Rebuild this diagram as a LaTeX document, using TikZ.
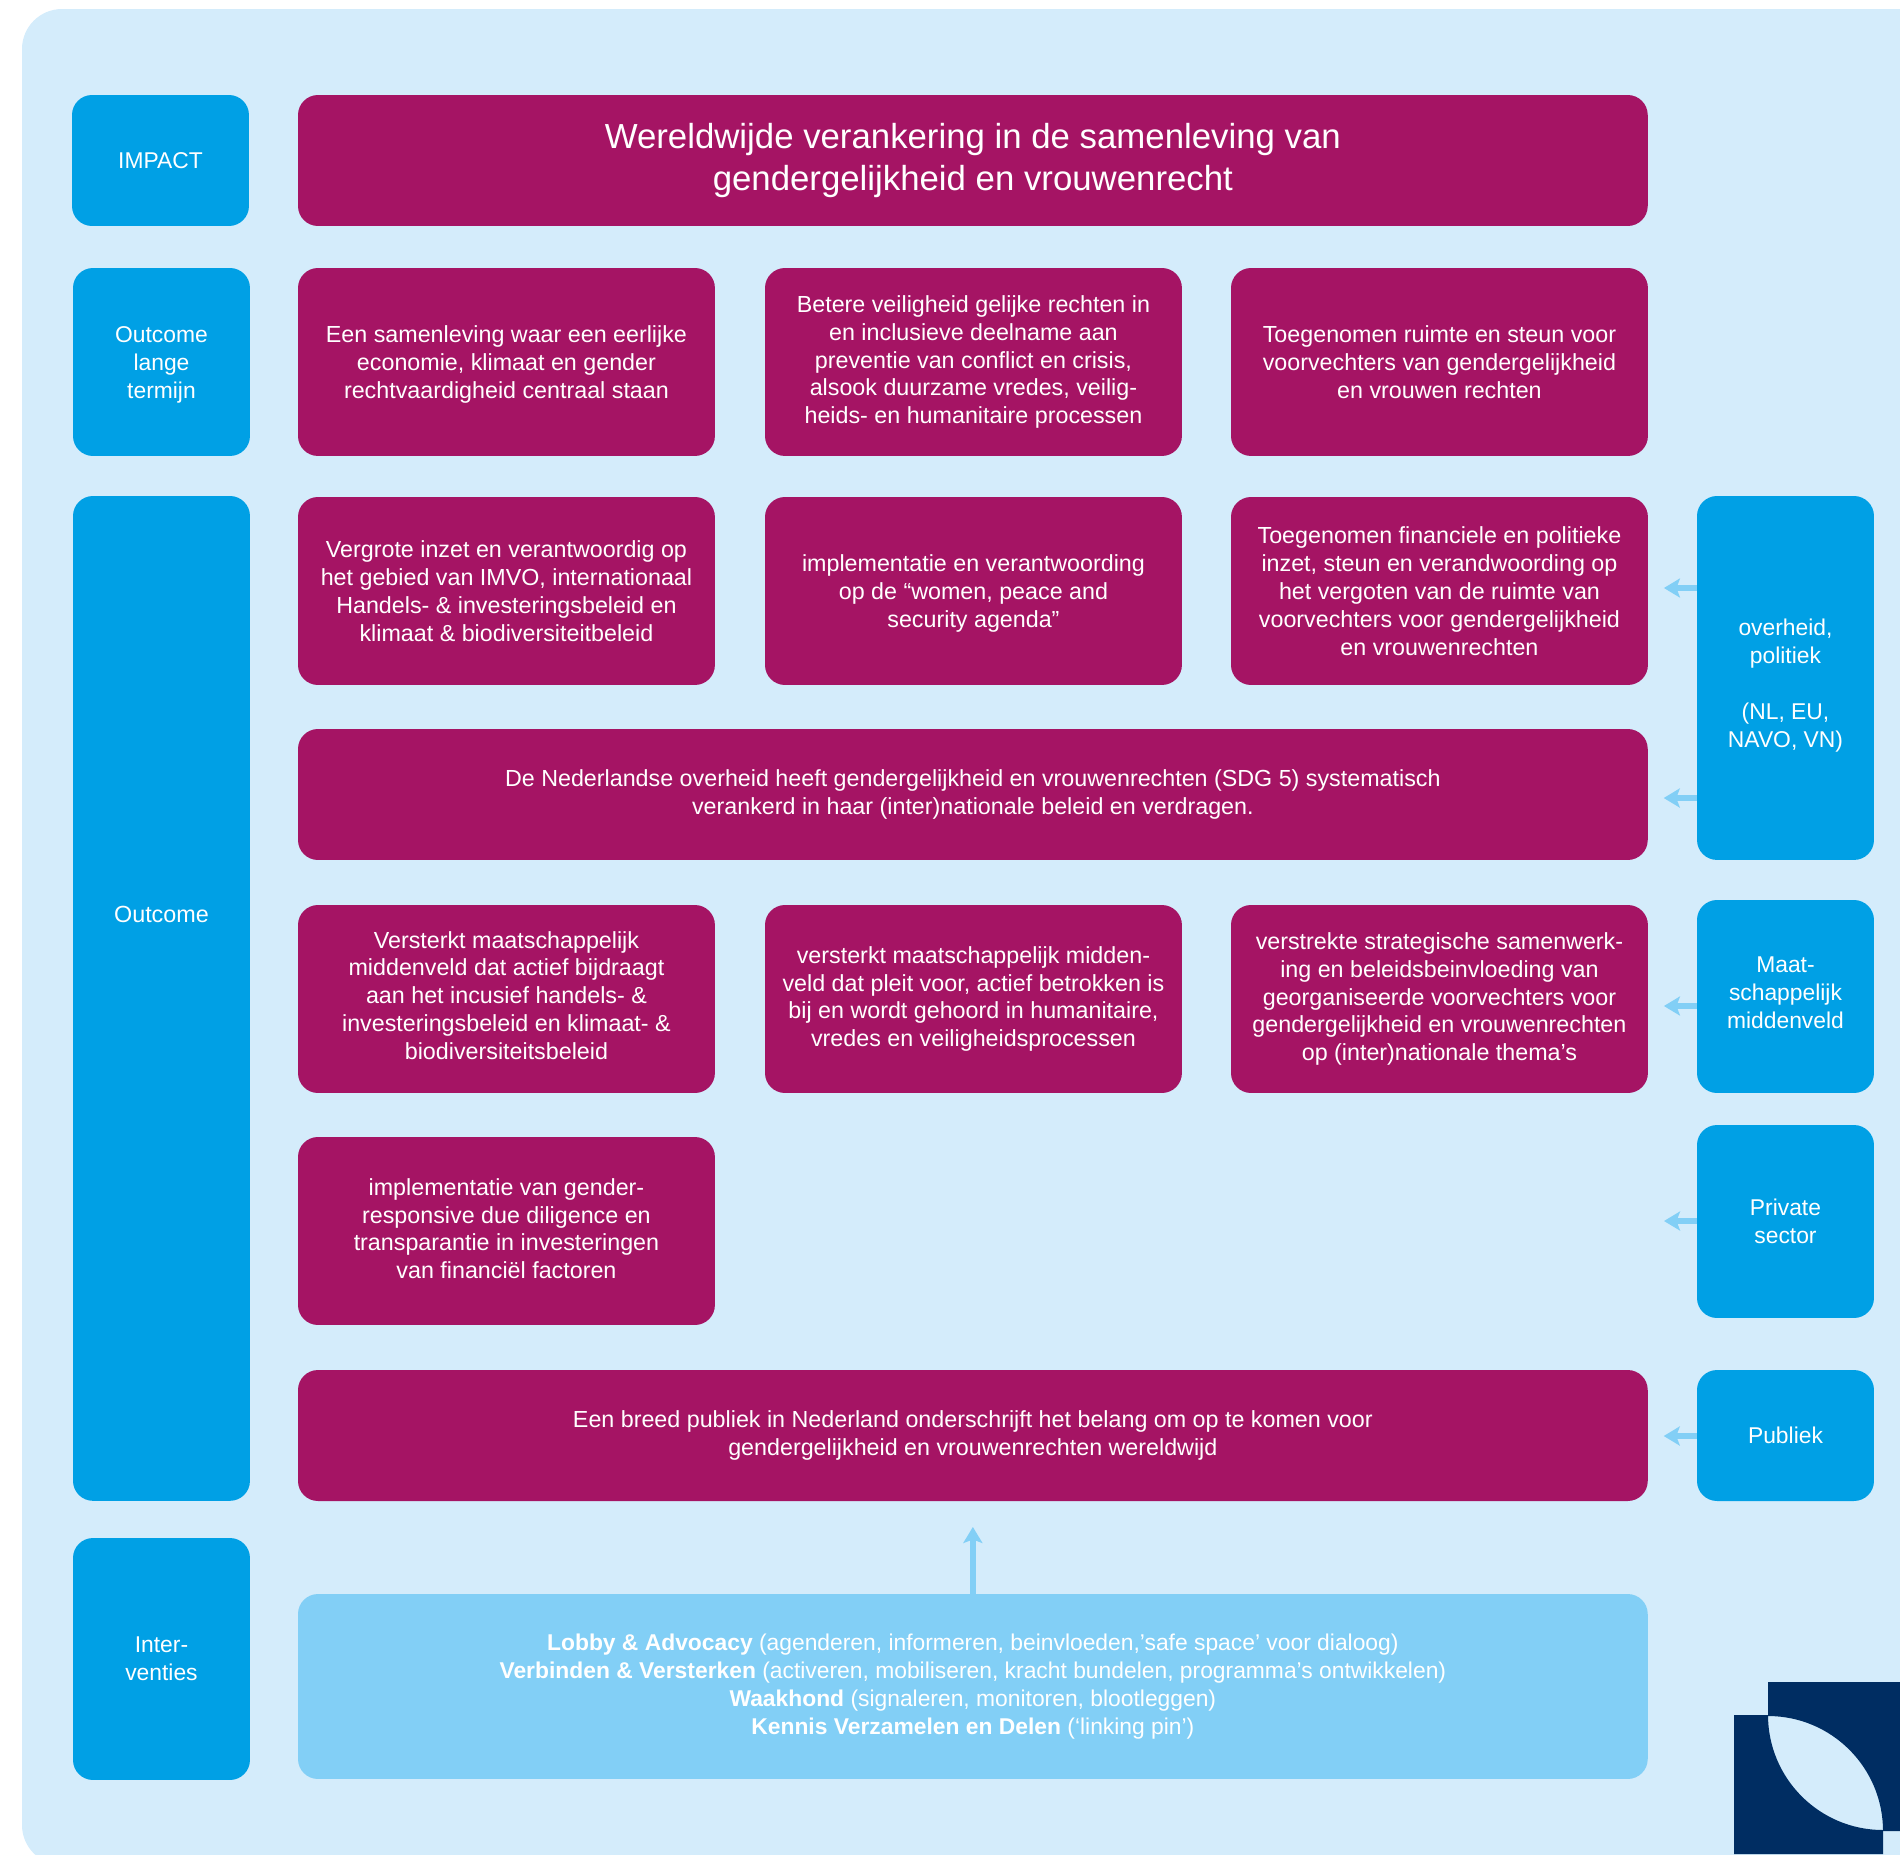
\documentclass[tikz,border=0pt]{standalone}
\usepackage{fontspec}
\setmainfont{Liberation Sans}
\usetikzlibrary{arrows.meta}

\definecolor{paleblue}{HTML}{D4ECFB}
\definecolor{midblue}{HTML}{00A0E5}
\definecolor{lightblue}{HTML}{82CFF6}
\definecolor{plum}{HTML}{A51464}
\definecolor{navy}{HTML}{002D62}

\newcommand{\drop}[1]{\rule{0pt}{#1}}

\begin{document}
\begin{tikzpicture}[x=0.02cm, y=-0.02cm,
  box/.style={anchor=north west, rounded corners=0.4cm, inner sep=0pt, outer sep=0pt, align=center, text=white, font=\fontsize{13.25}{15.9}\selectfont},
  labelbox/.style={box, fill=midblue, minimum width=3.54cm, font=\fontsize{13}{15.9}\selectfont},
  goalbox/.style={box, fill=plum, minimum width=8.34cm, minimum height=3.76cm},
  widebox/.style={box, fill=plum, minimum width=27cm, minimum height=2.62cm},
  flow/.style={-{Stealth[length=0.32cm,width=0.38cm,inset=0.07cm]}, lightblue, line width=0.11cm}]

  \useasboundingbox (0,0) rectangle (1900,1854);
  \clip (0,0) rectangle (1900,1854);

  \fill [paleblue] (22,1825) -- (22,49) arc (180:270:40) -- (2000,9) -- (2000,1865) -- (62,1865) arc (90:180:40) -- cycle;

  % left column
  \node (impact) at (72,95) [labelbox, minimum height=2.62cm] {IMPACT};
  \node (lange) at (73,268) [labelbox, minimum height=3.76cm] {\drop{12.8pt}Outcome\\lange\\termijn};
  \node (outcome) at (73,496) [labelbox, minimum height=20.1cm, text depth=3.36cm, font=\fontsize{13.3}{15.9}\selectfont] {Outcome};
  \node (inter) at (73,1538) [labelbox, minimum height=4.84cm] {Inter-\\venties};

  % right column
  \node (overheid) at (1697,496) [labelbox, minimum height=7.28cm] {\drop{18pt}overheid,\\politiek\\[15.9pt](NL, EU,\\NAVO, VN)};
  \node (maat) at (1697,900) [labelbox, minimum height=3.86cm] {Maat-\\schappelijk\\middenveld\\[-11.9pt]};
  \node (private) at (1697,1125) [labelbox, minimum height=3.86cm] {Private\\sector};
  \node (publiek) at (1697,1370) [labelbox, minimum height=2.62cm] {Publiek};

  % top rows
  \node (wereld) at (298,95) [widebox, font=\fontsize{19.8}{24}\selectfont] {Wereldwijde verankering in de samenleving van\\gendergelijkheid en vrouwenrecht};

  \node (eerlijk) at (298,268) [goalbox] {\drop{12.8pt}Een samenleving waar een eerlijke\\economie, klimaat en gender\\rechtvaardigheid centraal staan};
  \node (veilig) at (765,268) [goalbox] {Betere veiligheid gelijke rechten in\\en inclusieve deelname aan\\preventie van conflict en crisis,\\alsook duurzame vredes, veilig-\\heids- en humanitaire processen};
  \node (ruimte) at (1231,268) [goalbox] {Toegenomen ruimte en steun voor\\voorvechters van gendergelijkheid\\en vrouwen rechten};

  \node (imvo) at (298,497) [goalbox] {Vergrote inzet en verantwoordig op\\het gebied van IMVO, internationaal\\Handels- \& investeringsbeleid en\\klimaat \& biodiversiteitbeleid};
  \node (agenda) at (765,497) [goalbox] {\drop{12.8pt}implementatie en verantwoording\\op de “women, peace and\\security agenda”};
  \node (steun) at (1231,497) [goalbox] {Toegenomen financiele en politieke\\inzet, steun en verandwoording op\\het vergoten van de ruimte van\\voorvechters voor gendergelijkheid\\en vrouwenrechten};

  \node (sdg) at (298,729) [widebox] {De Nederlandse overheid heeft gendergelijkheid en vrouwenrechten (SDG 5) systematisch\\verankerd in haar (inter)nationale beleid en verdragen.};

  \node (midden) at (298,905) [goalbox] {Versterkt maatschappelijk\\middenveld dat actief bijdraagt\\aan het incusief handels- \&\\investeringsbeleid en klimaat- \&\\biodiversiteitsbeleid\\[-11.9pt]};
  \node (pleit) at (765,905) [goalbox] {versterkt maatschappelijk midden-\\veld dat pleit voor, actief betrokken is\\bij en wordt gehoord in humanitaire,\\vredes en veiligheidsprocessen};
  \node (samen) at (1231,905) [goalbox] {verstrekte strategische samenwerk-\\ing en beleidsbeinvloeding van\\georganiseerde voorvechters voor\\gendergelijkheid en vrouwenrechten\\op (inter)nationale thema’s};

  \node (diligence) at (298,1137) [goalbox] {implementatie van gender-\\responsive due diligence en\\transparantie in investeringen\\van financiël factoren\\[-13.1pt]};

  \node (breed) at (298,1370) [widebox] {Een breed publiek in Nederland onderschrijft het belang om op te komen voor\\gendergelijkheid en vrouwenrechten wereldwijd};

  \node (lobby) at (298,1594) [widebox, fill=lightblue, minimum height=3.7cm, font=\fontsize{13}{15.9}\selectfont] {\textbf{Lobby \& Advocacy} (agenderen, informeren, beinvloeden,’safe space’ voor dialoog)\\\textbf{Verbinden \& Versterken} (activeren, mobiliseren, kracht bundelen, programma’s ontwikkelen)\\\textbf{Waakhond} (signaleren, monitoren, blootleggen)\\\textbf{Kennis Verzamelen en Delen} (‘linking pin’)};

  % arrows
  \coordinate (privatetip) at (1648,1221);

  \foreach \from/\to/\y in {overheid/steun/588, overheid/sdg/798, maat/samen/1006, publiek/breed/1436} {
    \draw [flow, shorten >=0.32cm] (\from.west |- 0,\y) -- (\to.east |- 0,\y);
  };
  \draw [flow, shorten >=0.32cm] (private.west |- privatetip) -- (privatetip);
  \draw [flow, shorten >=0.52cm] (lobby.north) -- (breed.south);

  % logo
  \fill [navy] (1768,1682) -- (1900,1682) -- (1900,1831) -- (1883,1831) arc (0:-90:115) -- cycle;
  \fill [navy] (1734,1715) -- (1768,1715) arc (180:90:115) -- (1883,1854) -- (1734,1854) -- cycle;

\end{tikzpicture}
\end{document}
